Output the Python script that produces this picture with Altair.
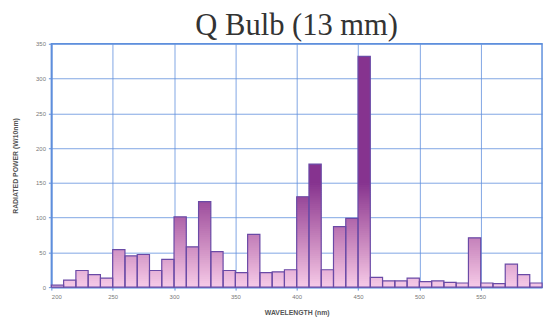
import altair as alt
import pandas as pd

# 10 nm bins from 200 to 600 nm
bin_start = list(range(200, 600, 10))
power = [3, 10, 24, 18, 13, 54, 45, 47, 24, 40,
         101, 58, 123, 51, 24, 21, 76, 21, 22, 25,
         130, 177, 25, 87, 99, 332, 14, 9, 9, 13,
         8, 9, 7, 6, 71, 6, 5, 33, 18, 6]
x_ticks = [200, 250, 300, 350, 400, 450, 500, 550]
y_ticks = [0, 50, 100, 150, 200, 250, 300, 350]

bars = pd.DataFrame({"start": bin_start,
                     "end": [b + 10 for b in bin_start],
                     "power": power})

# split each bar into thin slices so the fill gradient follows the y scale
rows = []
for s, v in zip(bin_start, power):
    lo = 0.0
    top = min(v, 150)
    while lo < top:
        hi = min(lo + 3, top)
        rows.append({"start": s, "end": s + 10, "lo": lo,
                     "hi": min(hi + 2.0, v), "mid": (lo + hi) / 2})
        lo = hi
    if v > 150:
        rows.append({"start": s, "end": s + 10, "lo": 150, "hi": v, "mid": 150})
seg = pd.DataFrame(rows)

blue = "#5f8fdc"

xaxis = alt.Axis(values=x_ticks, title="WAVELENGTH (nm)",
                 grid=True, gridColor=blue, gridWidth=1, gridOpacity=0.8,
                 domainColor=blue, domainWidth=1.5,
                 tickColor=blue, tickSize=3, labelOverlap=False,
                 labelFontSize=6, labelColor="#777", labelPadding=4,
                 titleFontSize=7, titleColor="#555", titleFontWeight="bold",
                 titlePadding=9, labelFont="Liberation Sans",
                 titleFont="Liberation Sans")

yaxis = alt.Axis(values=y_ticks, title="RADIATED POWER (W/10nm)",
                 grid=True, gridColor=blue, gridWidth=1, gridOpacity=0.8,
                 domainColor=blue, domainWidth=1.5,
                 tickColor=blue, tickSize=3, labelOverlap=False,
                 labelFontSize=6, labelColor="#777", labelPadding=3,
                 titleFontSize=7, titleColor="#555", titleFontWeight="bold",
                 titlePadding=17, labelFont="Liberation Sans",
                 titleFont="Liberation Sans")

xscale = alt.Scale(domain=[200, 600], nice=False)
yscale = alt.Scale(domain=[0, 350], nice=False)

fill = alt.Chart(seg).mark_rect(strokeWidth=0).encode(
    x=alt.X("start:Q", scale=xscale, axis=xaxis),
    x2="end:Q",
    y=alt.Y("lo:Q", scale=yscale, axis=yaxis),
    y2="hi:Q",
    color=alt.Color("mid:Q",
                    scale=alt.Scale(domain=[0, 150],
                                    range=["#f6cbe8", "#86338f"], clamp=True),
                    legend=None),
)

outline = alt.Chart(bars).mark_rect(fillOpacity=0, stroke="#6a4aa6",
                                    strokeWidth=1.2).encode(
    x=alt.X("start:Q", scale=xscale, axis=xaxis), x2="end:Q",
    y=alt.Y("power:Q", scale=yscale, axis=yaxis), y2=alt.Y2(datum=0),
)

chart = alt.layer(fill, outline).properties(
    width=498, height=247,
    title=alt.TitleParams("Q Bulb (13 mm)", font="Liberation Serif",
                          fontSize=31, fontWeight="normal", color="#333",
                          anchor="middle", offset=-1),
    autosize=alt.AutoSizeParams(type="none"),
    padding={"left": 44, "top": 34, "right": 2, "bottom": 30},
).configure_view(stroke=blue, strokeWidth=1.5)

chart.save("out.html", embed_options={"renderer": "svg", "actions": False})
